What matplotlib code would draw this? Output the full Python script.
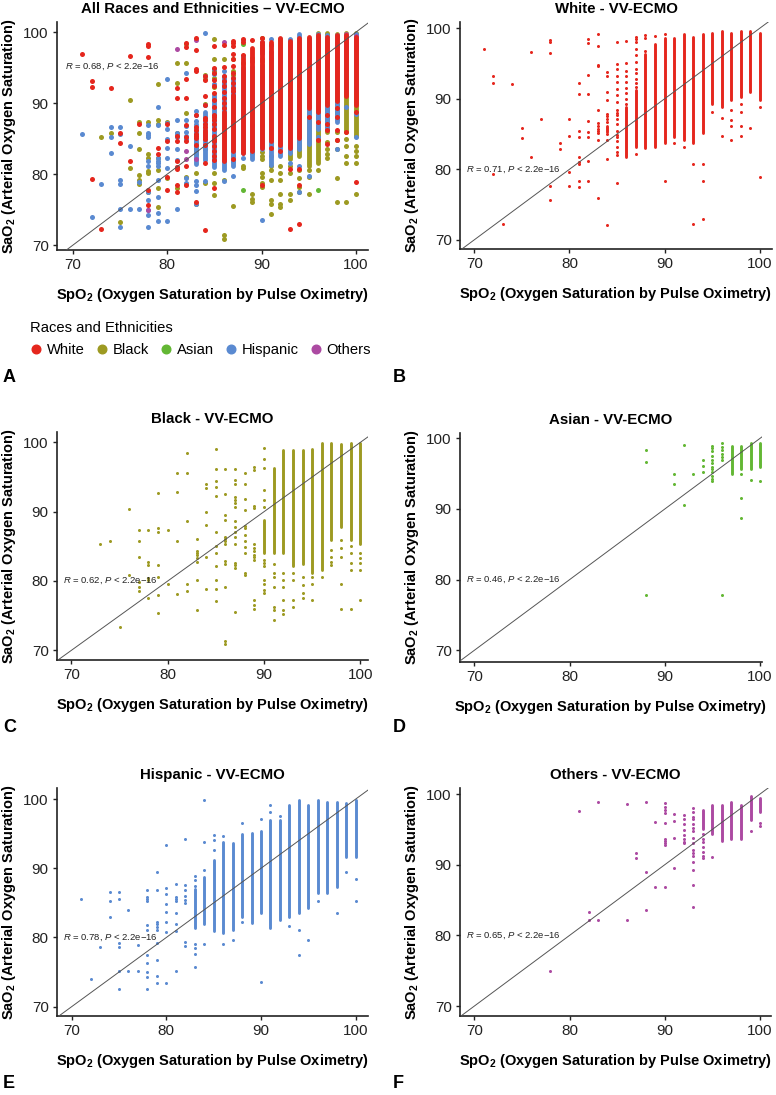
import matplotlib
matplotlib.use('Agg')
import matplotlib.pyplot as plt
from matplotlib.lines import Line2D

plt.rcParams['font.family'] = ['Liberation Sans', 'DejaVu Sans']
plt.rcParams['mathtext.fontset'] = 'custom'
plt.rcParams['mathtext.rm'] = 'Liberation Sans'
plt.rcParams['mathtext.it'] = 'Liberation Sans:italic'
plt.rcParams['mathtext.bf'] = 'Liberation Sans:bold'

# ---------------- data ----------------
GROUPS = ['White', 'Black', 'Asian', 'Hispanic', 'Others']
COLORS = {'White': '#E5261D', 'Black': '#9D9A22', 'Asian': '#63B734',
          'Hispanic': '#5A8AD1', 'Others': '#AC4AA2'}
R_VALUES = {'All': 0.68, 'White': 0.71, 'Black': 0.62, 'Asian': 0.46,
            'Hispanic': 0.78, 'Others': 0.65}

# sparse points: SpO2 -> list of SaO2
WHITE_POINTS = {
    71: [97.0], 72: [93.2, 92.3, 79.3], 73: [72.2], 74: [92.1], 75: [85.8, 84.4],
    76: [96.7, 81.8], 77: [87.1], 78: [98.3, 98.0, 96.5, 77.7, 75.6], 79: [83.7, 82.9],
    80: [87.1, 84.7, 79.6, 77.7],
    81: [92.2, 90.7, 85.4, 84.6, 81.8, 81.0, 80.7, 78.4, 77.5],
    82: [98.5, 97.9, 93.4, 90.7, 86.9, 85.3, 84.6, 81.2, 78.4],
    83: [99.2, 97.5, 94.8, 94.6, 88.4, 86.6, 86.2, 85.7, 85.4, 85.1, 84.1, 76.0],
    84: [93.8, 93.3, 91.0, 89.8, 87.9, 87.6, 87.1, 86.7, 85.0, 84.1, 81.5, 72.1],
    85: [98.1, 94.9, 94.3, 93.3, 92.4, 91.4, 90.5, 89.5, 88.4, 88.0, 87.7, 87.1, 86.4,
         85.4, 84.9, 84.6, 84.0, 83.2, 82.5, 82.0, 78.1],
    86: [98.2, 95.1, 93.9, 93.2, 92.4, 91.6, 90.8, 90.0, 89.3],
    87: [98.8, 98.5, 98.1, 97.0, 96.2, 95.2, 94.3, 93.6, 92.8, 92.2, 91.7, 82.2],
    88: [99.1, 98.7, 96.8], 89: [98.9], 90: [99.2, 78.4], 91: [83.7], 92: [83.2],
    93: [80.7, 72.3], 94: [80.7, 78.4, 73.0], 95: [88.1], 96: [87.3, 84.8],
    97: [88.4, 87.0, 86.2, 84.2], 98: [89.3, 88.1, 86.2, 84.8], 99: [85.9],
    100: [88.8, 78.9],
}
# dense runs: (SpO2, lowest SaO2, highest SaO2)
WHITE_RUNS = [(84, 85.3, 86.2), (86, 81.8, 88.8), (87, 83.2, 91.2), (88, 83.0, 96.4),
              (89, 83.2, 97.8), (90, 83.7, 98.7), (91, 84.6, 98.6), (92, 84.1, 99.2),
              (93, 83.7, 98.8), (94, 85.1, 99.2), (95, 89.3, 99.4), (96, 88.8, 99.6),
              (97, 89.8, 99.4), (98, 90.3, 99.6), (99, 91.0, 99.6), (100, 89.8, 99.4)]

BLACK_POINTS = {
    73: [85.3], 74: [85.8], 75: [73.3], 76: [90.4, 80.8],
    77: [87.4, 85.8, 83.5, 79.9, 79.2, 78.6],
    78: [87.4, 82.8, 82.3, 80.5, 80.1, 77.5],
    79: [92.7, 87.7, 87.0, 82.3, 80.6, 78.0, 75.4],
    80: [87.4, 79.5], 81: [95.6, 92.8, 85.8, 78.1], 82: [98.4, 95.6, 88.6, 79.6, 78.6],
    83: [86.1, 84.4, 84.0, 83.7, 83.3, 82.8, 80.2, 75.8],
    84: [94.0, 93.4, 89.9, 88.1, 83.5, 78.8],
    85: [99.1, 96.2, 94.5, 93.6, 92.3, 87.0, 85.1, 84.0, 82.2, 80.1, 78.8, 77.1],
    86: [96.2, 92.6, 89.5, 88.8, 86.4, 86.0, 85.7, 85.4, 82.9, 82.5, 79.2, 71.4, 70.9],
    87: [96.2, 94.6, 94.0, 92.1, 91.7, 91.3, 90.7, 88.6, 87.8, 87.1, 86.4, 85.3, 82.6,
         82.3, 81.9, 75.5],
    88: [95.6, 94.0, 91.8, 90.3, 87.9, 87.6, 86.6, 85.8, 84.9, 84.0, 81.2, 80.8],
    89: [96.4, 96.0, 90.8, 90.5, 85.3, 84.8, 84.3, 83.8, 83.4, 83.0, 77.2, 76.5, 76.0],
    90: [99.2, 97.6, 96.3, 93.1, 91.7, 90.7, 83.1, 82.6, 82.1, 80.1, 79.6, 78.7, 78.2],
    91: [82.5, 81.1, 80.6, 79.2, 76.3, 75.8, 74.4],
    92: [81.1, 80.1, 79.2, 77.2, 75.8, 75.3],
    93: [81.1, 80.1, 77.2, 76.3], 94: [80.6, 79.4, 78.2, 77.5], 95: [80.6, 79.6, 77.2],
    96: [80.6], 97: [84.5, 83.5, 82.8, 82.3], 98: [85.9, 84.8, 83.5, 79.5, 76.0],
    99: [85.0, 84.0, 82.6, 81.6, 76.0], 100: [84.0, 83.3, 82.6, 81.6, 77.2],
}
BLACK_RUNS = [(90, 84.0, 88.8), (91, 84.0, 96.3), (92, 84.0, 98.9), (93, 82.1, 98.9),
              (94, 82.5, 98.9), (95, 81.1, 99.0), (96, 81.6, 99.9), (97, 85.9, 99.9),
              (98, 87.8, 99.7), (99, 85.9, 99.9), (100, 85.4, 99.9)]

ASIAN_POINTS = {
    88: [98.3, 96.6, 77.8], 91: [94.9, 93.6], 92: [99.1, 90.5], 93: [94.9],
    94: [96.9, 96.1, 95.2],
    95: [98.9, 98.6, 98.2, 97.5, 96.9, 96.5, 96.0, 95.6, 95.2, 94.7, 94.2, 93.9],
    96: [99.3, 98.8, 98.3, 97.8, 97.3, 96.9, 77.8],
    98: [94.9, 91.5, 88.7], 99: [94.1], 100: [94.0],
}
ASIAN_RUNS = [(97, 95.0, 98.9), (98, 95.7, 98.9), (99, 95.7, 99.3), (100, 95.9, 99.3)]

HISPANIC_POINTS = {
    71: [85.6], 72: [74.0], 73: [78.6], 74: [86.6, 85.3, 83.0],
    75: [86.6, 85.6, 79.2, 78.6, 75.1, 72.6], 76: [84.0, 75.1], 77: [78.9, 75.1],
    78: [86.9, 85.8, 85.5, 85.2, 81.8, 81.1, 77.5, 76.3, 75.0, 74.3, 72.6],
    79: [89.4, 86.9, 82.3, 81.9, 81.5, 81.1, 79.2, 76.8, 74.5, 73.4],
    80: [93.4, 87.2, 86.3, 84.9, 83.7, 82.3, 80.8, 73.4],
    81: [87.7, 85.8, 85.5, 85.2, 83.5, 82.0, 81.0, 75.1],
    82: [94.2, 87.6, 86.8, 86.0, 85.4, 85.0, 79.4, 78.7],
    83: [88.9, 88.3, 87.5, 79.1, 78.5, 77.6, 75.8],
    84: [99.9, 93.8, 89.8, 79.1], 85: [94.8, 94.1, 92.7], 86: [94.6, 79.1],
    87: [79.7], 88: [96.6, 82.3], 90: [97.1, 73.6], 91: [99.1, 98.2], 92: [97.6],
    93: [81.6], 94: [81.1, 77.5], 95: [79.7], 96: [85.2], 98: [83.5], 99: [89.5],
    100: [88.5, 85.2],
}
HISPANIC_RUNS = [(83, 81.4, 87.0), (84, 82.0, 88.8), (85, 81.0, 91.2), (86, 80.6, 93.8),
                 (87, 81.1, 93.6), (88, 83.0, 95.0), (89, 82.1, 95.1), (90, 83.5, 95.4),
                 (91, 81.3, 97.0), (92, 82.5, 97.0), (93, 83.0, 99.1), (94, 83.5, 99.8),
                 (95, 84.2, 99.1), (96, 86.4, 99.8), (97, 86.4, 99.6), (98, 87.3, 99.6),
                 (99, 91.7, 99.4), (100, 91.7, 99.8)]

OTHERS_POINTS = {
    78: [75.0], 81: [97.6], 82: [83.3, 82.2], 83: [98.9, 82.2], 86: [98.6, 82.2],
    87: [91.7, 90.9], 88: [98.9, 89.0, 83.6], 89: [96.0, 86.9],
    90: [98.7, 98.2, 97.8, 97.3, 95.9, 93.7, 93.4, 93.1, 92.8, 86.9],
    91: [97.2, 96.2, 93.8, 89.6],
    92: [97.0, 96.5, 95.8, 94.9, 94.2, 93.6, 93.2, 93.0],
    93: [98.0, 97.4, 96.8, 96.4, 95.8, 95.2, 94.7, 93.8, 93.1, 92.1, 91.7, 91.2, 90.4,
         89.2, 87.1, 84.0],
    94: [94.3, 93.6, 93.2, 92.5, 91.8, 91.3, 90.9], 95: [91.1], 99: [94.8],
    100: [95.9, 95.5],
}
OTHERS_RUNS = [(94, 95.0, 97.7), (95, 94.4, 98.4), (96, 93.3, 98.4), (97, 93.7, 98.8),
               (98, 93.7, 98.4), (99, 96.3, 99.7), (100, 97.5, 99.5)]

DATA = {'White': (WHITE_POINTS, WHITE_RUNS), 'Black': (BLACK_POINTS, BLACK_RUNS),
        'Asian': (ASIAN_POINTS, ASIAN_RUNS), 'Hispanic': (HISPANIC_POINTS, HISPANIC_RUNS),
        'Others': (OTHERS_POINTS, OTHERS_RUNS)}

# ---------------- figure ----------------
W, H = 776, 1095
fig = plt.figure(figsize=(W / 100, H / 100), dpi=100)


def rect(l, r, t, b):
    return [l / W, 1 - b / H, (r - l) / W, (b - t) / H]


def draw_group(ax, name, size, lw):
    pts, runs = DATA[name]
    c = COLORS[name]
    xs = [x for x, ys in pts.items() for _ in ys]
    ys = [y for v in pts.values() for y in v]
    ax.vlines([r[0] for r in runs], [r[1] for r in runs], [r[2] for r in runs],
              colors=c, linewidth=lw, capstyle='round', zorder=3)
    ax.scatter(xs, ys, s=size, color=c, linewidths=0, zorder=3)


def style(ax, title, xlim, ylim, rval, ry):
    ax.set_xlim(*xlim)
    ax.set_ylim(*ylim)
    ax.set_xticks([70, 80, 90, 100])
    ax.set_yticks([70, 80, 90, 100])
    for s in ['top', 'right']:
        ax.spines[s].set_visible(False)
    for s in ['left', 'bottom']:
        ax.spines[s].set_linewidth(1.2)
        ax.spines[s].set_color('#222222')
    ax.tick_params(direction='out', length=3, width=1.0, colors='#222222',
                   labelsize=11, labelcolor='#222222', pad=3)
    ax.axline((70, 70), slope=1, color='#555555', lw=0.7, zorder=4)
    ax.set_title(title, fontsize=10.8, fontweight='bold', pad=6.5)
    ax.set_xlabel(r'SpO$_\mathbf{2}$ (Oxygen Saturation by Pulse Oximetry)',
                  fontsize=10.5, fontweight='bold', labelpad=9.5)
    ax.set_ylabel(r'SaO$_\mathbf{2}$ (Arterial Oxygen Saturation)',
                  fontsize=10.5, fontweight='bold', labelpad=3.5)
    ax.text(69.1, ry, r'$\mathit{R}$ = %.2f, $\mathit{P}$ < 2.2e−16' % rval,
            fontsize=6.8, ha='left', va='center', color='#222222', zorder=5)


# Panel A: all groups
axA = fig.add_axes(rect(57, 368, 22, 250))
for g in ['Black', 'Asian', 'Hispanic', 'Others', 'White']:
    draw_group(axA, g, size=13, lw=3.5)
style(axA, 'All Races and Ethnicities – VV-ECMO', (68.3, 101.3), (69.3, 101.45),
      R_VALUES['All'], 95.1)

panels = [('White', (460, 772, 22, 249), (68.5, 101.3), (68.7, 100.9)),
          ('Black', (57, 368, 432, 660), (68.5, 100.8), (68.6, 101.5)),
          ('Asian', (460, 762, 433, 662), (68.5, 100.2), (68.35, 100.75)),
          ('Hispanic', (57, 368, 788, 1016), (68.45, 101.3), (68.65, 101.6)),
          ('Others', (460, 771, 788, 1016), (68.5, 101.15), (68.6, 100.85))]
for name, r, xl, yl in panels:
    ax = fig.add_axes(rect(*r))
    draw_group(ax, name, size=4.8, lw=2.1)
    style(ax, f'{name} - VV-ECMO', xl, yl, R_VALUES[name], 80.0)

# legend below panel A
handles = [Line2D([], [], marker='o', ls='', color=COLORS[g], markersize=6.2) for g in GROUPS]
leg = fig.legend(handles, GROUPS, title='Races and Ethnicities', loc='upper left',
                 bbox_to_anchor=(30 / W, 1 - 321.5 / H), ncol=5, frameon=False,
                 fontsize=10.6, title_fontsize=10.6, handlelength=0.8,
                 handletextpad=0.35, columnspacing=0.74, borderpad=0, borderaxespad=0,
                 alignment='left')

# panel letters
for letter, x, y in [('A', 3, 377), ('B', 393, 377), ('C', 3, 728), ('D', 393, 728),
                     ('E', 3, 1083), ('F', 393, 1083)]:
    fig.text(x / W, 1 - y / H, letter, fontsize=13, fontweight='bold', va='center',
             ha='left')

fig.savefig('out.png', dpi=100)
